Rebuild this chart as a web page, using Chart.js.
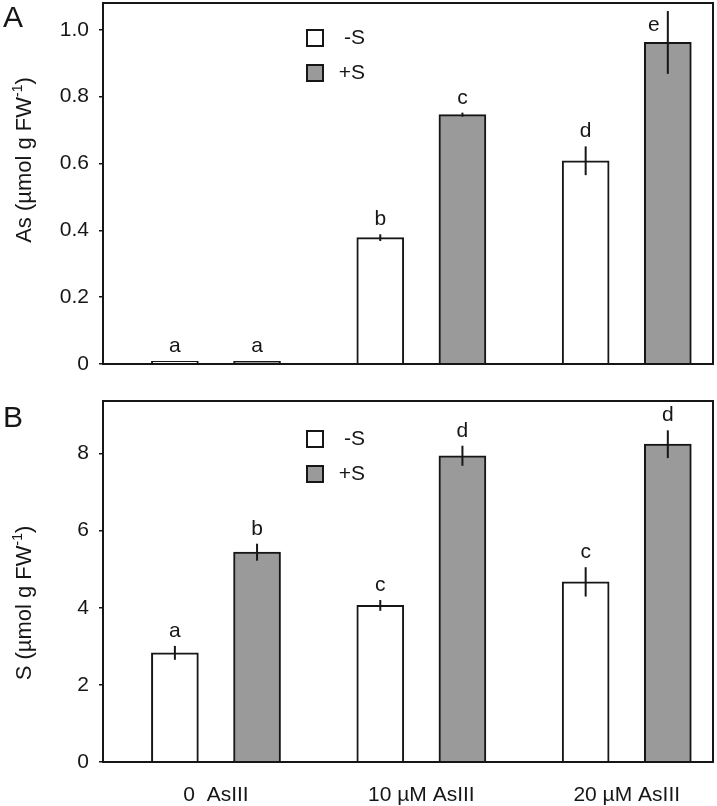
<!DOCTYPE html>
<html lang="en">
<head>
<meta charset="UTF-8">
<title>As and S content</title>
<script src="https://cdn.jsdelivr.net/npm/chart.js@4/dist/chart.umd.min.js"></script>
<style>
	body{margin:0;background:#fff;}
	canvas{display:block;}
</style>
</head>
<body>
<canvas id="chartA" width="717" height="390"></canvas>
<canvas id="chartB" width="717" height="416"></canvas>
<script>

var groups=["0  AsIII","10 \u00b5M AsIII","20 \u00b5M AsIII"];
var seriesNames=["-S","+S"];

// panel A: As content
var asMinusS=[0.008,0.378,0.608];
var asPlusS=[0.008,0.746,0.962];
var asMinusErr=[0,0.010,0.043];
var asPlusErr=[0,0.006,0.094];
var asMinusLetters=["a","b","d"];
var asPlusLetters=["a","c","e"];
var asTicks=[0,0.2,0.4,0.6,0.8,1.0];

// panel B: S content
var sMinusS=[2.83,4.06,4.67];
var sPlusS=[5.44,7.94,8.24];
var sMinusErr=[0.18,0.14,0.38];
var sPlusErr=[0.22,0.26,0.36];
var sMinusLetters=["a","c","c"];
var sPlusLetters=["b","d","d"];
var sTicks=[0,2,4,6,8];

var FONT='"Liberation Sans", Arial, sans-serif';
var INK='#161616';
var FS=21;

var extras={
	id:'extras',
	afterDatasetsDraw:function(chart){
		var ctx=chart.ctx,y=chart.scales.y,area=chart.chartArea;
		ctx.save();
		chart.data.datasets.forEach(function(ds,di){
			var meta=chart.getDatasetMeta(di);
			meta.data.forEach(function(bar,i){
				var v=ds.values[i],e=ds.errors[i];
				var yTop=y.getPixelForValue(v+e),yBot=y.getPixelForValue(v-e);
				if(e>0){
					ctx.strokeStyle=INK;
					ctx.lineWidth=2;
					ctx.beginPath();
					ctx.moveTo(bar.x,yTop);
					ctx.lineTo(bar.x,yBot);
					ctx.stroke();
				}
				var lx=bar.x,ly=yTop-9;
				if(ly-14<area.top){
					// no room above: put letter beside the error bar
					lx=bar.x-14;
					ly=yTop+20;
				}
				ctx.fillStyle=INK;
				ctx.font=FS+'px '+FONT;
				ctx.textAlign='center';
				ctx.textBaseline='alphabetic';
				ctx.fillText(ds.letters[i],lx,ly);
			});
		});
		ctx.restore();
	},
	afterDraw:function(chart,args,opts){
		var ctx=chart.ctx,area=chart.chartArea;
		ctx.save();
		// frame
		ctx.strokeStyle=INK;
		ctx.lineWidth=2;
		ctx.strokeRect(area.left,area.top,area.right-area.left,area.bottom-area.top);

		// legend
		chart.data.datasets.forEach(function(ds,di){
			var x=area.left+204,yy=area.top+opts.legendTop+di*35;
			ctx.fillStyle=ds.backgroundColor;
			ctx.fillRect(x,yy,16,16);
			ctx.lineWidth=2;
			ctx.strokeStyle=INK;
			ctx.strokeRect(x,yy,16,16);
			ctx.fillStyle=INK;
			ctx.font=FS+'px '+FONT;
			ctx.textAlign='right';
			ctx.textBaseline='middle';
			ctx.fillText(ds.label,x+58,yy+8);
		});

		// panel letter
		ctx.font='30px '+FONT;
		ctx.textAlign='left';
		ctx.textBaseline='alphabetic';
		ctx.fillText(opts.panel,3,opts.panelY);

		// y title with superscript
		ctx.translate(opts.titleX,opts.titleY);
		ctx.rotate(-Math.PI/2);
		ctx.textBaseline='middle';
		ctx.font='22px '+FONT;
		var a=opts.title+' (\u00b5mol g FW',sup='-1',b=')';
		var wa=ctx.measureText(a).width,wb=ctx.measureText(b).width;
		ctx.font='14px '+FONT;
		var ws=ctx.measureText(sup).width;
		var x0=-(wa+ws+wb)/2;
		ctx.font='22px '+FONT;
		ctx.fillText(a,x0,0);
		ctx.font='14px '+FONT;
		ctx.fillText(sup,x0+wa,-7);
		ctx.font='22px '+FONT;
		ctx.fillText(b,x0+wa+ws,0);
		ctx.restore();
	}
};

function makeChart(id,o){
	var sets=[
		{label:seriesNames[0],values:o.minus,errors:o.minusErr,letters:o.minusLet,backgroundColor:'#ffffff'},
		{label:seriesNames[1],values:o.plus,errors:o.plusErr,letters:o.plusLet,backgroundColor:'#9a9a9a'}
	];
	sets.forEach(function(s,k){
		var off=k===0?-0.2:0.2;
		s.data=s.values.map(function(v,i){return {x:i+off,y:v};});
		s.borderColor=INK;
		s.borderWidth=2;
		s.barThickness=47;
		s.grouped=false;
	});

	return new Chart(document.getElementById(id),{
		type:'bar',
		data:{datasets:sets},
		options:{
			responsive:false,
			animation:false,
			devicePixelRatio:1,
			layout:{padding:{top:o.padTop,right:4,left:0,bottom:0}},
			plugins:{
				legend:{display:false},
				tooltip:{enabled:false},
				extras:{panel:o.panel,panelY:o.panelY,title:o.title,titleX:o.titleX,titleY:o.titleY,legendTop:o.legendTop}
			},
			scales:{
				x:{
					type:'linear',
					min:-0.55,max:2.42,
					offset:false,
					grid:{display:false,offset:false},
					border:{display:false},
					afterBuildTicks:function(s){s.ticks=groups.map(function(g,i){return {value:i};});},
					afterFit:function(s){
						s.height=o.xHeight;
						s.paddingLeft=0;s.paddingRight=0;
					},
					ticks:{
						display:o.showX,
						padding:13,
						color:INK,
						font:{size:FS,family:FONT},
						maxRotation:0,
						callback:function(v){return groups[v];}
					}
				},
				y:{
					min:0,max:o.max,
					afterBuildTicks:function(s){s.ticks=o.ticks.map(function(v){return {value:v};});},
					afterFit:function(s){
						s.width=103;
						s.paddingTop=0;s.paddingBottom=0;
					},
					grid:{drawOnChartArea:false,drawTicks:true,tickLength:4,color:INK,lineWidth:1.5},
					border:{display:false},
					ticks:{
						padding:10,
						color:INK,
						font:{size:FS,family:FONT},
						callback:function(v){return v===0?'0':o.fmt(v);}
					}
				}
			}
		},
		plugins:[extras]
	});
}

makeChart('chartA',{
	minus:asMinusS,plus:asPlusS,minusErr:asMinusErr,plusErr:asPlusErr,
	minusLet:asMinusLetters,plusLet:asPlusLetters,
	ticks:asTicks,max:1.08,fmt:function(v){return v.toFixed(1);},
	padTop:3,xHeight:26,showX:false,
	panel:'A',panelY:27,title:'As',titleX:25,titleY:160,legendTop:27
});

makeChart('chartB',{
	minus:sMinusS,plus:sPlusS,minusErr:sMinusErr,plusErr:sPlusErr,
	minusLet:sMinusLetters,plusLet:sPlusLetters,
	ticks:sTicks,max:9.36,fmt:function(v){return String(v);},
	padTop:11,xHeight:44,showX:true,
	panel:'B',panelY:37,title:'S',titleX:25,titleY:213,legendTop:30
});

</script>
</body>
</html>
